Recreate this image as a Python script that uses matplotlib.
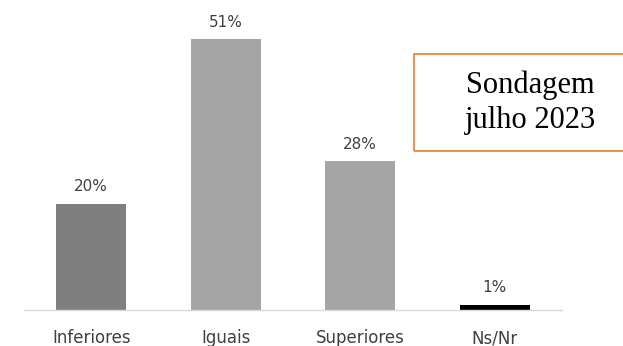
import matplotlib.pyplot as plt
from matplotlib.patches import Rectangle

categorias = ['Inferiores', 'Iguais', 'Superiores', 'Ns/Nr']
valores = [20, 51, 28, 1]
cores = ['#7f7f7f', '#a5a5a5', '#a5a5a5', '#000000']

fig = plt.figure(figsize=(6.23, 3.46), dpi=100)
ax = fig.add_axes([24 / 623, 36 / 346, 538 / 623, 292 / 346])

x = range(len(categorias))
barras = ax.bar(x, valores, width=0.52, color=cores)

for b, v in zip(barras, valores):
    ax.annotate(f'{v}%', (b.get_x() + b.get_width() / 2, v),
                xytext=(0, 7), textcoords='offset points',
                ha='center', va='bottom', fontsize=11, color='#404040')

ax.set_xlim(-0.5, 3.5)
ax.set_ylim(0, 55)
ax.set_xticks(list(x))
ax.set_xticklabels(categorias, fontsize=12, color='#404040')
ax.tick_params(axis='x', length=0, pad=14)
ax.set_yticks([])
for s in ['top', 'right', 'left']:
    ax.spines[s].set_visible(False)
ax.spines['bottom'].set_color('#d9d9d9')
ax.spines['bottom'].set_linewidth(1)

# caixa com a data da sondagem
fig.patches.append(Rectangle((414 / 623, 195 / 346), 0.4, 97 / 346,
                             transform=fig.transFigure, fill=False,
                             edgecolor='#ed7d31', linewidth=1.2))
fig.text(530 / 623, 1 - 103 / 346, 'Sondagem\njulho 2023', ha='center', va='center',
         fontsize=22, family='Liberation Serif', linespacing=1.25)

fig.savefig('out.png', dpi=100)
